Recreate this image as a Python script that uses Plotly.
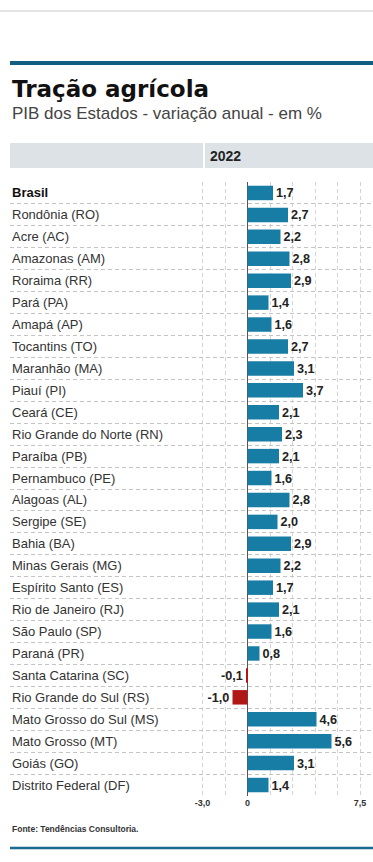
import plotly.graph_objects as go

states = ["Brasil", "Rondônia (RO)", "Acre (AC)", "Amazonas (AM)", "Roraima (RR)", "Pará (PA)",
          "Amapá (AP)", "Tocantins (TO)", "Maranhão (MA)", "Piauí (PI)", "Ceará (CE)",
          "Rio Grande do Norte (RN)", "Paraíba (PB)", "Pernambuco (PE)", "Alagoas (AL)",
          "Sergipe (SE)", "Bahia (BA)", "Minas Gerais (MG)", "Espírito Santo (ES)",
          "Rio de Janeiro (RJ)", "São Paulo (SP)", "Paraná (PR)", "Santa Catarina (SC)",
          "Rio Grande do Sul (RS)", "Mato Grosso do Sul (MS)", "Mato Grosso (MT)",
          "Goiás (GO)", "Distrito Federal (DF)"]
values = [1.7, 2.7, 2.2, 2.8, 2.9, 1.4, 1.6, 2.7, 3.1, 3.7, 2.1, 2.3, 2.1, 1.6, 2.8, 2.0,
          2.9, 2.2, 1.7, 2.1, 1.6, 0.8, -0.1, -1.0, 4.6, 5.6, 3.1, 1.4]
tick_vals = [-3.0, -1.5, 0, 1.5, 3.0, 4.5, 6.0, 7.5]
tick_text = ["-3,0", "", "0", "", "", "", "", "7,5"]
year_label = "2022"
title = "Tração agrícola"
subtitle = "PIB dos Estados - variação anual - em %"
source = "Fonte: Tendências Consultoria."

W, H = 373, 862
ML, MR, MT, MB = 10, 0, 182, 66
PW, PH = W - ML - MR, H - MT - MB

def px_x(px):
    return (px - ML) / PW

def px_y(py):
    return (H - MB - py) / PH

BLUE = "#177da5"
RED = "#b01818"
FONT = "Liberation Sans, Arial, sans-serif"
TITLE_FONT = "DejaVu Sans, Liberation Sans, sans-serif"

colors = [BLUE if v >= 0 else RED for v in values]
texts = [f"{v:.1f}".replace(".", ",") for v in values]

fig = go.Figure(go.Bar(
    x=values, y=states, orientation="h",
    marker=dict(color=colors, line=dict(width=0)),
    text=texts, textposition="outside",
    textfont=dict(family=FONT, size=14, color="#222", weight="bold"),
    cliponaxis=False, hoverinfo="skip",
))

# x range chosen so that 0 sits at ~247px with ~15px per unit
zero_px, unit_px = 247.5, 15.0
x_lo = -(zero_px - ML) / unit_px
x_hi = (W - MR - zero_px) / unit_px

annotations = []
for s in states:
    label = f"<b>{s}</b>" if s == "Brasil" else s
    annotations.append(dict(
        x=0, xref="paper", y=s, yref="y", text=label, showarrow=False,
        xanchor="left", yanchor="middle",
        font=dict(family=FONT, size=13, color="#333" if s != "Brasil" else "#111"),
    ))

annotations += [
    dict(x=0, xref="paper", y=px_y(89), yref="paper", text=f"<b>{title}</b>",
         showarrow=False, xanchor="left", yanchor="middle",
         font=dict(family=TITLE_FONT, size=23, color="#111")),
    dict(x=0, xref="paper", y=px_y(114), yref="paper", text=subtitle,
         showarrow=False, xanchor="left", yanchor="middle",
         font=dict(family=FONT, size=17, color="#444")),
    dict(x=px_x(208), xref="paper", y=px_y(156), yref="paper", text=f"<b>{year_label}</b>",
         showarrow=False, xanchor="left", yanchor="middle",
         font=dict(family=FONT, size=14, color="#222")),
    dict(x=0, xref="paper", y=px_y(829), yref="paper", text=f"<b>{source}</b>",
         showarrow=False, xanchor="left", yanchor="middle",
         font=dict(family=FONT, size=8.5, color="#333")),
]

shapes = [
    dict(type="line", xref="paper", yref="paper", x0=px_x(0), x1=px_x(W), y0=px_y(11), y1=px_y(11),
         line=dict(color="#c8c8c8", width=1)),
    dict(type="line", xref="paper", yref="paper", x0=0, x1=px_x(W), y0=px_y(63), y1=px_y(63),
         line=dict(color="#135f80", width=4)),
    dict(type="rect", xref="paper", yref="paper", x0=0, x1=px_x(203), y0=px_y(168), y1=px_y(143),
         fillcolor="#dde2e7", line=dict(width=0), layer="below"),
    dict(type="rect", xref="paper", yref="paper", x0=px_x(205), x1=px_x(W), y0=px_y(168), y1=px_y(143),
         fillcolor="#dde2e7", line=dict(width=0), layer="below"),
    dict(type="line", xref="paper", yref="paper", x0=0, x1=px_x(W), y0=px_y(848), y1=px_y(848),
         line=dict(color="#1a6a90", width=2.5)),
]

fig.update_layout(
    width=W, height=H,
    margin=dict(l=ML, r=MR, t=MT, b=MB, pad=0),
    paper_bgcolor="white", plot_bgcolor="white",
    showlegend=False, bargap=0.34,
    annotations=annotations, shapes=shapes,
    xaxis=dict(range=[x_lo, x_hi], tickvals=tick_vals, ticktext=tick_text,
               showgrid=True, gridcolor="#d4d4d4", gridwidth=1, griddash="4px,3px",
               zeroline=True, zerolinecolor="#555", zerolinewidth=1,
               ticks="", showline=False, fixedrange=True,
               tickfont=dict(family=FONT, size=9, color="#333", weight="bold")),
    yaxis=dict(categoryorder="array", categoryarray=states, autorange="reversed",
               showticklabels=False, ticks="", tickson="boundaries",
               showgrid=True, gridcolor="#c4c4c4", gridwidth=1, griddash="4px,3px",
               showline=False, zeroline=False, fixedrange=True),
)

fig.write_html(
    "out.html",
    config={"displayModeBar": False},
    post_script="document.body.style.margin='0';document.body.style.overflow='hidden';",
)
